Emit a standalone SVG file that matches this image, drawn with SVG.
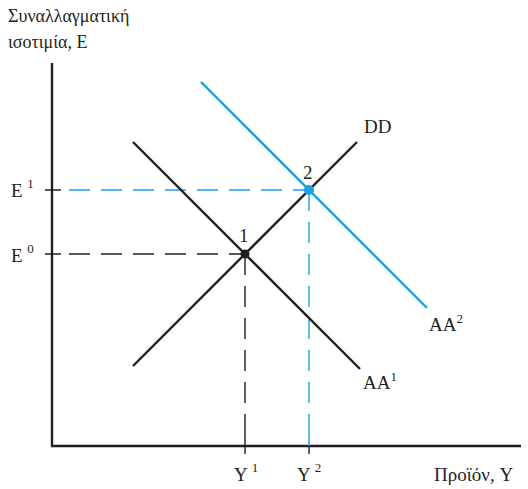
<svg xmlns="http://www.w3.org/2000/svg" width="528" height="489" viewBox="0 0 528 489">
<style>
text{font-family:'Liberation Serif','Times New Roman','DejaVu Serif',serif;font-size:19px;fill:#231f20}
.sup{font-size:13px}
.t{font-size:18px}
.k{stroke:#231f20;stroke-width:2.4;fill:none}
.b{stroke:#1ba1e2;stroke-width:2.4;fill:none}
.dk{stroke:#231f20;stroke-width:1.4;stroke-dasharray:21 11;fill:none}
.db{stroke:#1ba1e2;stroke-width:1.4;stroke-dasharray:21 11;fill:none}
</style>
<rect width="528" height="489" fill="#fff"/>
<g id="axes">
<path class="k" d="M52,63 V446 H521" stroke-width="3"/>
<path d="M45,190 H61 M45,254 H61 M245,432 V454" stroke="#231f20" stroke-width="1.4"/>
<path d="M309,432 V446" stroke="#1ba1e2" stroke-width="1.4"/>
<path d="M309,446 V454" stroke="#231f20" stroke-width="1.4"/>
</g>
<g id="connectors">
<path class="dk" d="M69,254 H245 M245,254 V432"/>
<path class="db" d="M69,190 H309 M309,190 V432"/>
</g>
<g id="AA1"><path class="k" d="M133,142 L360,369"/><text x="363" y="389">AA<tspan class="sup" dy="-8">1</tspan></text></g>
<g id="DD"><path class="k" d="M133,366 L357,142"/><text x="364" y="133">DD</text></g>
<g id="AA2"><path class="b" d="M201,82 L427,308"/><text x="429" y="331">AA<tspan class="sup" dy="-8">2</tspan></text></g>
<g id="point1"><circle cx="245" cy="254" r="4.5" fill="#231f20"/><text x="239" y="242">1</text></g>
<g id="point2"><circle cx="309" cy="190" r="5" fill="#1ba1e2"/><text x="303" y="179">2</text></g>
<g id="labels">
<text class="t" x="8" y="22">Συναλλαγματική</text>
<text class="t" x="8" y="48">ισοτιμία, E</text>
<text x="11" y="197">E <tspan class="sup" dy="-9">1</tspan></text>
<text x="11" y="262">E <tspan class="sup" dy="-9">0</tspan></text>
<text x="234" y="481">Y <tspan class="sup" dy="-9">1</tspan></text>
<text x="297" y="481">Y <tspan class="sup" dy="-9">2</tspan></text>
<text x="434" y="481">Προϊόν, Y</text>
</g>
</svg>
